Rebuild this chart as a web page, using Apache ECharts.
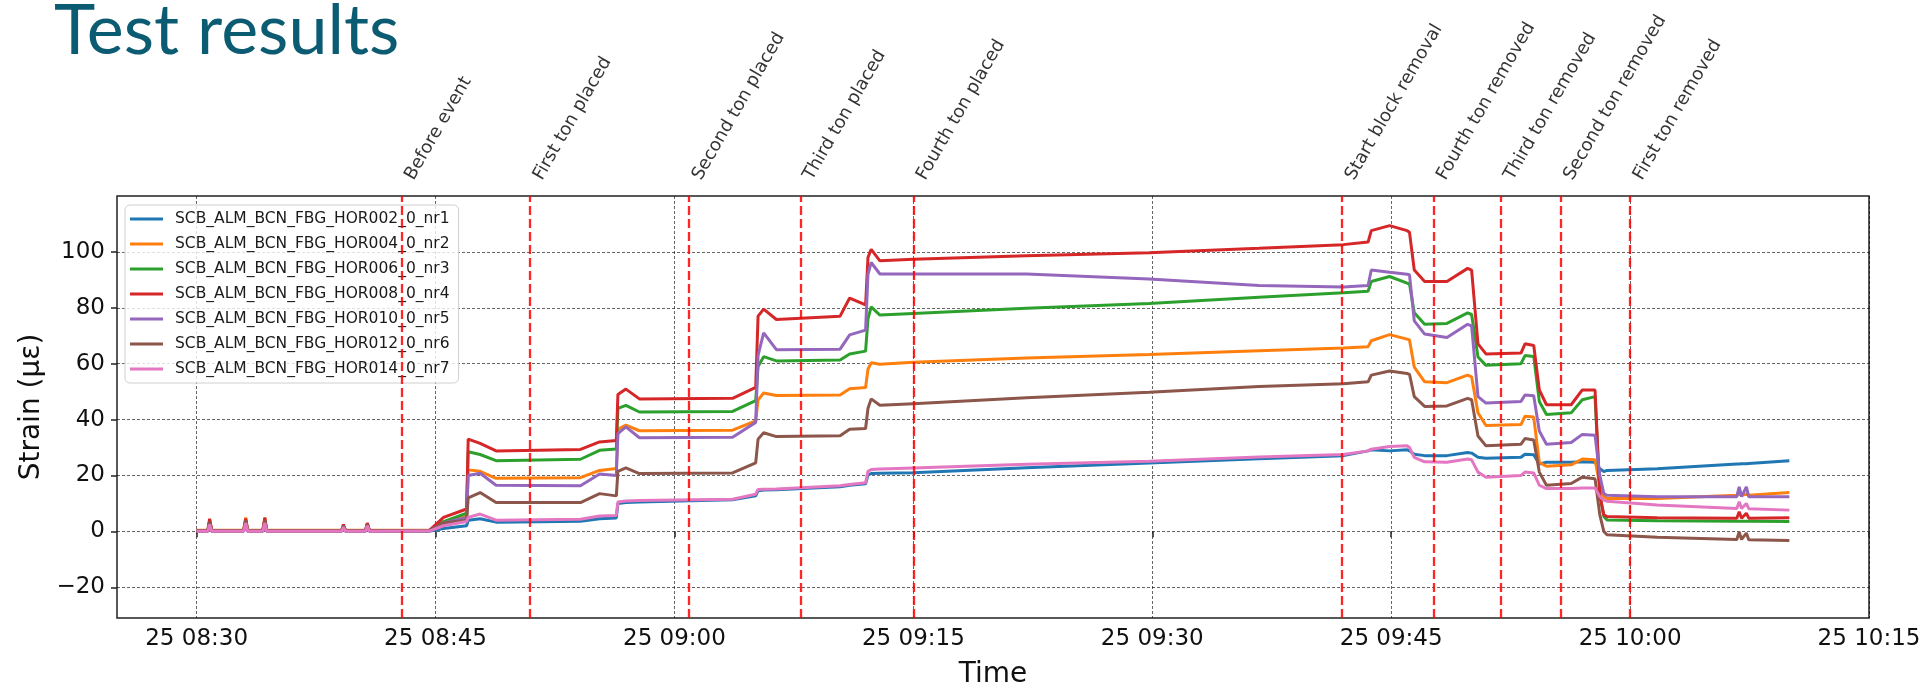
<!DOCTYPE html>
<html>
<head>
<meta charset="utf-8">
<script src="https://cdn.jsdelivr.net/npm/echarts@6/dist/echarts.min.js"></script>
<style>
html,body{margin:0;padding:0;background:#fff;}
#chart{width:1930px;height:694px;}
</style>
</head>
<body>
<div id="chart"></div>
<script>
// ---------- DATA ----------
const seriesNames = [
  'SCB_ALM_BCN_FBG_HOR002_0_nr1',
  'SCB_ALM_BCN_FBG_HOR004_0_nr2',
  'SCB_ALM_BCN_FBG_HOR006_0_nr3',
  'SCB_ALM_BCN_FBG_HOR008_0_nr4',
  'SCB_ALM_BCN_FBG_HOR010_0_nr5',
  'SCB_ALM_BCN_FBG_HOR012_0_nr6',
  'SCB_ALM_BCN_FBG_HOR014_0_nr7'
];

// sample times (25th, HH:MM:SS)
const times = [
  '08:30:00','08:30:42','08:30:49','08:30:57','08:32:57','08:33:05','08:33:12','08:34:09','08:34:17','08:34:24',
  '08:39:06','08:39:13','08:39:21','08:40:36','08:40:43','08:40:51','08:44:36','08:45:30','08:46:57','08:47:03',
  '08:47:48','08:48:48','08:54:06','08:55:18','08:56:21','08:56:27','08:56:57','08:57:48','09:03:39','09:05:06',
  '09:05:15','09:05:36','09:06:24','09:10:24','09:11:00','09:12:00','09:12:09','09:12:21','09:12:54','09:15:00',
  '09:22:06','09:29:48','09:36:42','09:42:00','09:43:33','09:43:45','09:44:54','09:46:00','09:46:09','09:46:27',
  '09:47:06','09:48:30','09:49:48','09:50:03','09:50:27','09:50:57','09:53:09','09:53:24','09:53:57','09:54:18',
  '09:54:45','09:56:18','09:57:00','09:57:48','09:58:06','09:58:21','09:58:33','10:01:42','10:06:42','10:06:51',
  '10:07:00','10:07:18','10:07:27','10:10:00'
];

const nr1 = [
  0.0,0.0,2.0,0.0,0.0,2.5,0.0,0.0,2.5,0.0,
  0.0,1.5,0.0,0.0,1.8,0.0,0.0,1.0,2.0,4.0,
  4.5,3.3,3.6,4.5,4.8,10.0,10.3,10.5,11.3,12.7,
  14.5,14.8,14.9,16.0,16.5,17.0,20.2,20.7,20.8,21.0,
  22.8,24.5,26.0,27.1,28.8,29.2,28.8,29.2,28.8,27.6,
  27.1,27.1,28.2,28.0,26.5,26.2,26.5,27.6,27.4,24.1,
  24.7,24.7,24.9,24.7,22.4,21.4,21.8,22.4,24.1,24.1,
  24.2,24.2,24.3,25.3
];
const nr2 = [
  0.4,0.4,4.0,0.4,0.4,5.0,0.4,0.4,4.5,0.4,
  0.4,2.0,0.4,0.4,2.8,0.4,0.4,3.0,5.5,22.0,
  21.5,19.0,19.2,21.8,22.5,36.5,38.0,36.0,36.2,39.5,
  47.0,49.5,48.6,48.8,51.0,51.5,58.0,60.3,59.8,60.5,
  62.0,63.3,64.6,65.6,66.1,68.2,70.4,68.8,68.5,58.8,
  53.5,53.2,55.9,55.3,42.4,37.9,38.2,41.2,40.9,24.7,
  23.3,23.8,25.9,25.6,16.5,12.4,11.8,11.8,12.9,13.3,
  12.9,13.3,12.9,13.9
];
const nr3 = [
  0.1,0.1,3.5,0.1,0.1,4.0,0.1,0.1,4.0,0.1,
  0.1,2.0,0.1,0.1,2.5,0.1,0.2,3.5,6.5,28.5,
  27.5,25.3,25.8,29.0,29.5,44.0,45.1,42.7,42.9,46.8,
  59.0,62.5,61.0,61.3,63.5,64.5,76.0,80.3,77.4,78.0,
  79.8,81.5,83.8,85.4,85.9,89.4,91.2,88.8,88.5,78.2,
  74.1,74.4,78.2,77.6,62.4,59.4,60.0,62.9,62.6,46.5,
  41.8,42.4,47.1,48.2,13.0,5.3,4.1,3.8,3.6,3.6,
  3.6,3.6,3.6,3.5
];
const nr4 = [
  0.2,0.2,4.5,0.2,0.2,4.5,0.2,0.2,5.0,0.2,
  0.2,2.5,0.2,0.2,3.0,0.2,0.3,5.0,8.0,33.0,
  31.5,28.8,29.3,32.0,32.5,49.0,50.9,47.4,47.6,51.5,
  77.0,79.5,75.8,77.0,83.5,81.0,98.0,100.9,96.8,97.4,
  98.6,99.7,101.3,102.6,103.5,107.6,109.4,107.6,107.0,93.5,
  89.4,89.4,94.1,93.5,67.1,63.5,63.8,67.1,66.5,50.6,
  45.3,45.3,50.6,50.6,13.0,5.9,5.3,4.9,4.7,7.0,
  4.7,6.5,4.7,4.9
];
const nr5 = [
  0.1,0.1,3.0,0.1,0.1,3.5,0.1,0.1,3.5,0.1,
  0.1,2.0,0.1,0.1,2.5,0.1,0.2,3.0,5.0,20.0,
  20.8,16.5,16.3,20.5,20.0,35.0,37.4,33.5,33.7,39.0,
  63.0,71.0,65.0,65.2,70.3,72.0,92.0,96.2,92.1,92.1,
  92.1,90.3,88.0,87.4,88.0,93.5,92.7,92.0,91.8,75.3,
  70.6,69.4,74.1,73.5,48.2,45.9,46.5,48.8,48.5,35.9,
  31.2,31.8,34.7,34.4,20.0,13.5,12.9,12.4,12.4,15.9,
  12.4,15.9,12.4,12.4
];
const nr6 = [
  0.1,0.1,3.5,0.1,0.1,4.0,0.1,0.1,4.0,0.1,
  0.1,2.0,0.1,0.1,2.5,0.1,0.2,3.0,4.0,12.0,
  13.9,10.3,10.3,13.5,12.7,21.5,22.7,20.7,20.9,24.5,
  33.0,35.3,33.9,34.2,36.5,36.8,44.0,47.4,45.1,45.7,
  47.8,49.8,51.8,52.8,53.5,55.9,57.4,56.5,56.2,48.2,
  44.7,44.9,47.6,47.1,34.1,30.6,31.2,33.2,32.7,21.2,
  16.5,17.1,19.4,18.8,5.9,0.0,-1.2,-2.1,-2.9,-0.2,
  -2.9,-0.6,-3.0,-3.3
];
const nr7 = [
  0.0,0.0,2.5,0.0,0.0,3.0,0.0,0.0,3.0,0.0,
  0.0,1.5,0.0,0.0,2.0,0.0,0.1,2.0,3.5,5.0,
  6.2,4.0,4.3,5.5,5.7,10.5,10.9,11.0,11.5,13.3,
  15.0,15.1,15.2,16.3,16.8,17.4,21.5,22.1,22.3,22.7,
  24.0,25.1,26.6,27.5,28.8,29.4,30.4,30.6,30.0,26.5,
  24.9,24.7,25.9,25.6,21.2,19.4,20.0,21.2,20.9,16.5,
  15.3,15.3,15.5,15.5,12.4,11.2,10.8,9.4,8.2,10.6,
  8.2,10.0,8.1,7.6
];

const eventTimes = ['08:42:52','08:50:56','09:00:55','09:07:54','09:15:00','09:41:55','09:47:40','09:51:53','09:55:38','10:00:00'];
const eventLabels = ['Before event','First ton placed','Second ton placed','Third ton placed','Fourth ton placed',
  'Start block removal','Fourth ton removed','Third ton removed','Second ton removed','First ton removed'];

const xTickTimes = ['08:30','08:45','09:00','09:15','09:30','09:45','10:00','10:15'];
const yTickValues = [-20,0,20,40,60,80,100];

// ---------- helpers / layout ----------
const colors = ['#1f77b4','#ff7f0e','#2ca02c','#d62728','#9467bd','#8c564b','#e377c2'];
const values = [nr1,nr2,nr3,nr4,nr5,nr6,nr7];
// minutes since 08:00 on the 25th
function tm(hms){
  const p = hms.split(':').map(Number);
  return (p[0]-8)*60 + p[1] + (p[2]||0)/60;
}
function pad(n){ return (n<10?'0':'')+n; }
function fmtTime(v){
  const total = Math.round(v);
  const h = 8 + Math.floor(total/60), m = total % 60;
  return '25 ' + pad(h) + ':' + pad(m);
}
const X_MIN = tm('08:25'), X_MAX = tm('10:15');
const Y_MIN = -31, Y_MAX = 120;
const LABEL_ANCHOR_Y = 127.8;   // label anchor just above the plot frame
const FONT = 'DejaVu Sans';

const lineSeries = seriesNames.map((name,k)=>({
  name, type:'line', showSymbol:false, symbol:'none',
  data: times.map((t,i)=>[tm(t), values[k][i]]),
  lineStyle:{color:colors[k], width:3},
  itemStyle:{color:colors[k]},
  emphasis:{disabled:true}, z:2
}));

const eventSeries = {
  name:'events', type:'scatter', clip:false, silent:true,
  symbol:'circle', symbolSize:0.01, itemStyle:{color:'rgba(0,0,0,0)'},
  data: eventTimes.map(t=>[tm(t), LABEL_ANCHOR_Y]),
  label:{show:true, position:'inside', rotate:60, align:'left', verticalAlign:'top',
    formatter:p=>eventLabels[p.dataIndex], fontFamily:FONT, fontSize:18, color:'#000'},
  markLine:{silent:true, symbol:['none','none'], label:{show:false},
    lineStyle:{color:'rgba(255,0,0,0.85)', type:[9,4], width:2.3},
    data: eventTimes.map(t=>({xAxis: tm(t)}))},
  z:3
};

const chart = echarts.init(document.getElementById('chart'), null, {renderer:'canvas'});
chart.setOption({
  animation:false,
  backgroundColor:'#fff',
  title:{text:'Test results', left:49, top:-9,
    textStyle:{fontFamily:'Lato', fontSize:70, fontWeight:'normal', color:'#0b5b72'}},
  grid:{left:117, top:196, width:1752, height:428, show:true, borderColor:'#222', borderWidth:1.5, backgroundColor:'transparent'},
  legend:{
    data:seriesNames, orient:'vertical', left:125, top:205,
    icon:'rect', itemWidth:33, itemHeight:3, itemGap:7,
    backgroundColor:'rgba(255,255,255,0.8)', borderColor:'#d0d0d0', borderWidth:1, borderRadius:5,
    padding:[5,9,5,5],
    textStyle:{fontFamily:FONT, fontSize:15.5, color:'#1a1a1a', padding:[0,0,0,7], lineHeight:18}
  },
  xAxis:{
    type:'value', min:X_MIN, max:X_MAX,
    axisLine:{show:false},
    axisTick:{show:true, length:6, lineStyle:{color:'#222', width:1.5}, customValues:xTickTimes.map(tm)},
    axisLabel:{customValues:xTickTimes.map(tm), margin:10, fontFamily:FONT, fontSize:23, color:'#111',
      formatter:fmtTime},
    splitLine:{show:true, lineStyle:{color:'rgba(0,0,0,0.6)', type:[3,2], width:1}},
    name:'Time', nameLocation:'middle', nameGap:43,
    nameTextStyle:{fontFamily:FONT, fontSize:28, color:'#111'}
  },
  yAxis:{
    type:'value', min:Y_MIN, max:Y_MAX,
    axisLine:{show:false},
    axisTick:{show:true, length:6, lineStyle:{color:'#222', width:1.5}, customValues:yTickValues},
    axisLabel:{customValues:yTickValues, margin:12, fontFamily:FONT, fontSize:23, color:'#111',
      formatter:v=> v<0 ? '\u2212'+Math.abs(v) : String(v)},
    splitLine:{show:true, lineStyle:{color:'rgba(0,0,0,0.6)', type:[3,2], width:1}},
    name:'Strain (με)', nameLocation:'middle', nameGap:70,
    nameTextStyle:{fontFamily:FONT, fontSize:28, color:'#111'}
  },
  series: lineSeries.concat([eventSeries])
});
</script>
</body>
</html>
